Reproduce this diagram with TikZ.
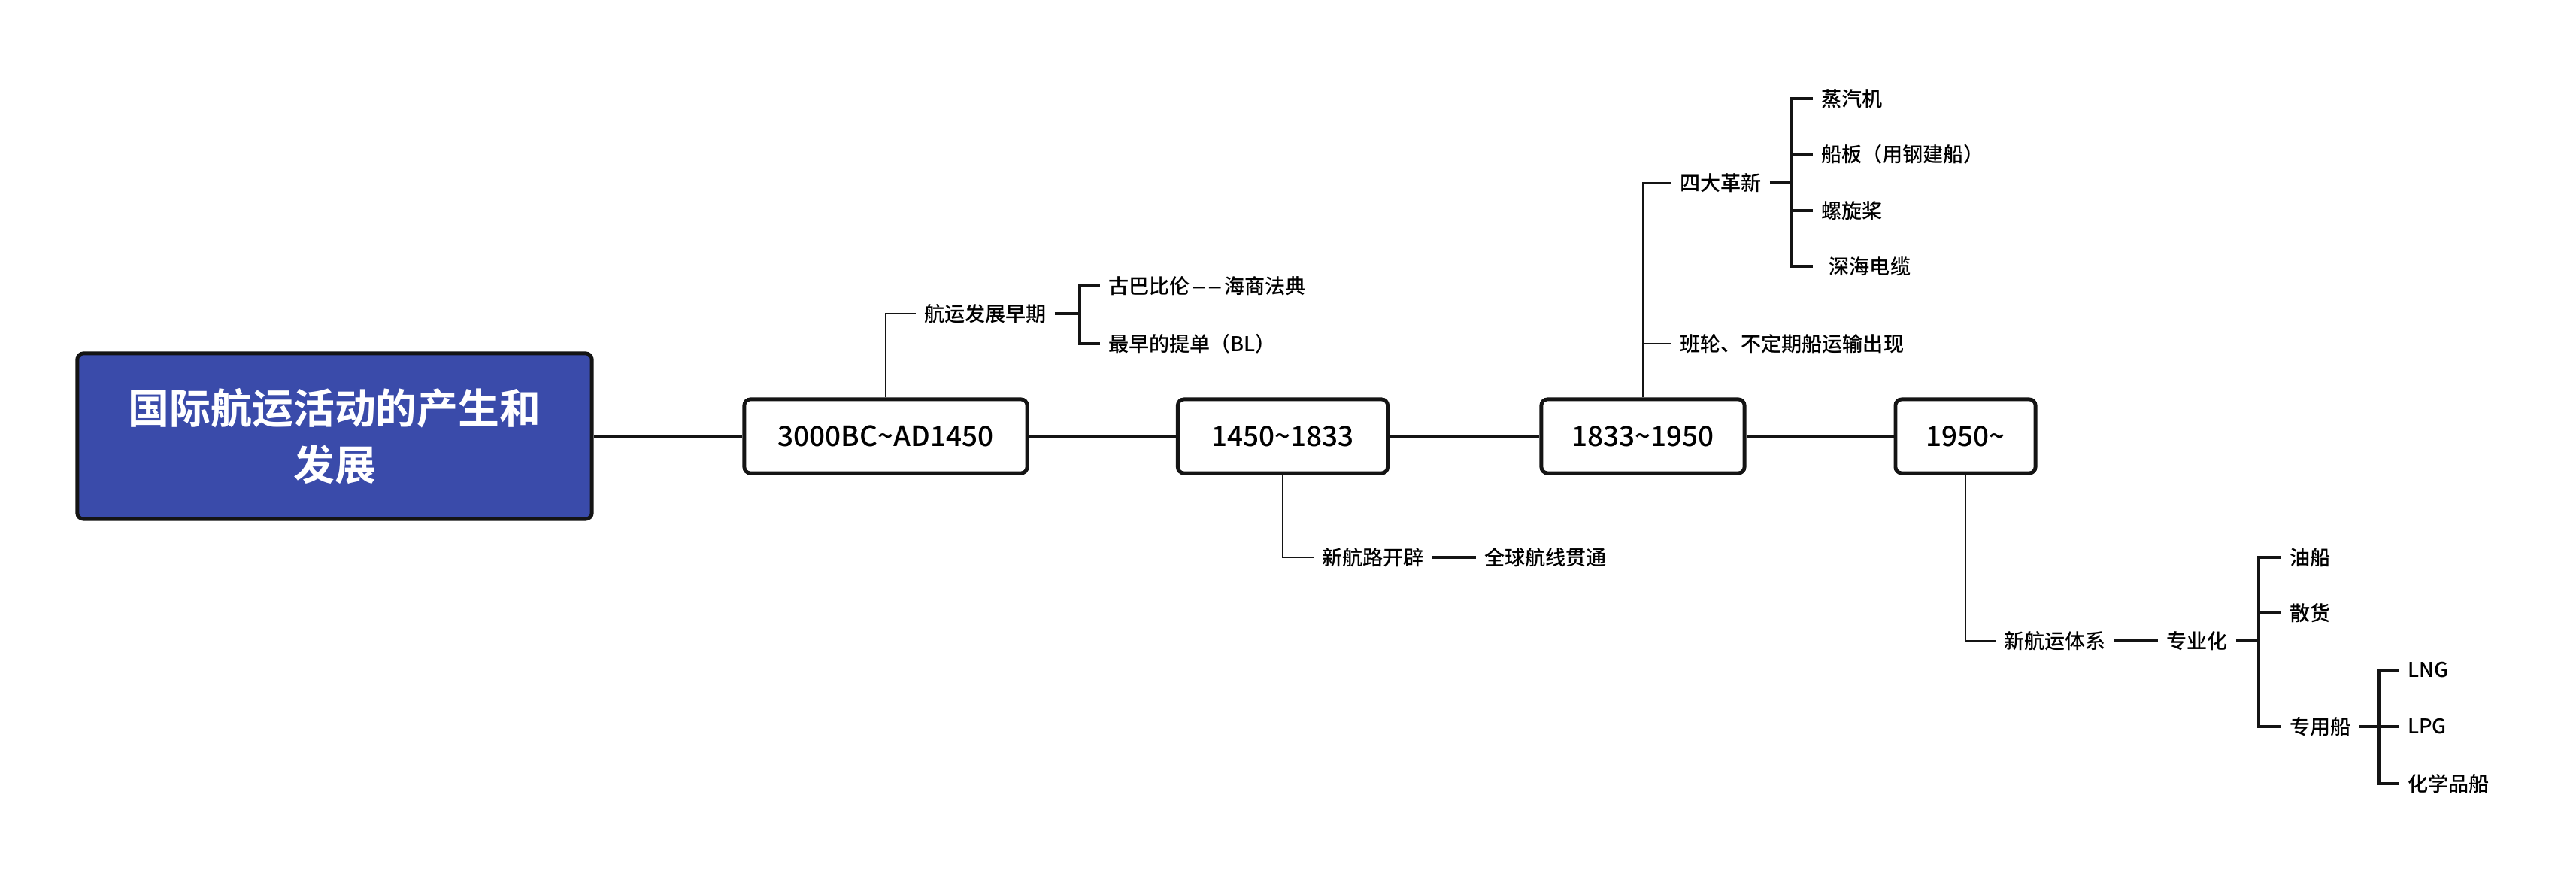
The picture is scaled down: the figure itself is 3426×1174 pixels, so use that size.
\documentclass[tikz,border=0pt]{standalone}
\usepackage{fontspec}
\setmainfont{Noto Sans CJK SC Medium}[BoldFont=Noto Sans CJK SC Bold]
\definecolor{titleblue}{HTML}{3A4BAA}
\definecolor{inkblack}{HTML}{141414}
\newcommand{\shortdash}{\scalebox{0.72}[1]{—}}

\begin{document}
\begin{tikzpicture}[x=0.01cm, y=-0.01cm,
        period/.style={draw=inkblack, line width=1.4pt, rounded corners=2.3pt, fill=white,
                minimum height=0.98cm, font=\fontsize{10.5}{12}\selectfont},
        leaf/.style={anchor=west, inner sep=3pt, font=\fontsize{7.7}{9}\selectfont},
        trunk/.style={draw=inkblack, line width=1.4pt},
        twig/.style={draw=inkblack, line width=0.75pt},
        brace/.style={draw=inkblack, line width=0.9pt}]
        \useasboundingbox (0, 0) rectangle (3426, 1174);

        \node [draw=inkblack, line width=1.4pt, rounded corners=2.3pt, fill=titleblue, text=white,
                minimum width=6.84cm, minimum height=2.2cm, align=center,
                font=\fontsize{15.6}{21.5}\selectfont\bfseries] (root) at (445, 580) {国际航运活动的产生和\\发展};
        \node [period, minimum width=3.76cm] (era1) at (1178, 580) {3000BC\textasciitilde AD1450};
        \node [period, minimum width=2.79cm] (era2) at (1706, 580) {1450\textasciitilde 1833};
        \node [period, minimum width=2.70cm] (era3) at (2185, 580) {1833\textasciitilde 1950};
        \node [period, minimum width=1.86cm] (era4) at (2614, 580) {1950\textasciitilde};
        \draw [trunk] (root) -- (era1) -- (era2) -- (era3) -- (era4);

        % early shipping
        \node [leaf] (early) at (1218, 417) {航运发展早期};
        \node [leaf] (babylon) at (1463, 380) {古巴比伦\kern1pt\shortdash\kern1pt\shortdash\kern1pt海商法典};
        \node [leaf] (lading) at (1463, 457) {最早的提单（BL）};
        \coordinate (earlyfork) at (1436, 417);
        \draw [twig] (era1.north) |- (early.west);
        \draw [brace] (early.east) -- (earlyfork);
        \draw [brace] (earlyfork) |- (babylon.west);
        \draw [brace] (earlyfork) |- (lading.west);

        % new routes
        \node [leaf] (routes) at (1747, 741) {新航路开辟};
        \node [leaf] (globe) at (1963, 741) {全球航线贯通};
        \draw [twig] (era2.south) |- (routes.west);
        \draw [brace] (routes) -- (globe);

        % innovations
        \node [leaf] (innov) at (2223, 243) {四大革新};
        \node [leaf] (liner) at (2223, 457) {班轮、不定期船运输出现};
        \node [leaf] (steam) at (2411, 131) {蒸汽机};
        \node [leaf] (plate) at (2411, 205) {船板（用钢建船）};
        \node [leaf] (screw) at (2411, 280) {螺旋桨};
        \node [leaf] (cable) at (2411, 354) {\hspace{3pt}深海电缆};
        \coordinate (innovfork) at (2382, 243);
        \draw [twig] (era3.north) |- (innov.west);
        \draw [twig] (era3.north) |- (liner.west);
        \draw [brace] (innov.east) -- (innovfork);
        \foreach \item in {steam, plate, screw, cable}
            \draw [brace] (innovfork) |- (\item.west);

        % new system
        \node [leaf] (system) at (2654, 852) {新航运体系};
        \node [leaf] (special) at (2870, 852) {专业化};
        \node [leaf] (tanker) at (3034, 741) {油船};
        \node [leaf] (bulk) at (3034, 815) {散货};
        \node [leaf] (dedic) at (3034, 966) {专用船};
        \node [leaf] (lng) at (3191, 891) {LNG};
        \node [leaf] (lpg) at (3191, 966) {LPG};
        \node [leaf] (chem) at (3191, 1042) {化学品船};
        \coordinate (specfork) at (3004, 852);
        \coordinate (dedicfork) at (3164, 966);
        \draw [twig] (era4.south) |- (system.west);
        \draw [brace] (system) -- (special);
        \draw [brace] (special.east) -- (specfork);
        \foreach \item in {tanker, bulk, dedic}
            \draw [brace] (specfork) |- (\item.west);
        \draw [brace] (dedic.east) -- (dedicfork);
        \foreach \item in {lng, lpg, chem}
            \draw [brace] (dedicfork) |- (\item.west);
\end{tikzpicture}
\end{document}
